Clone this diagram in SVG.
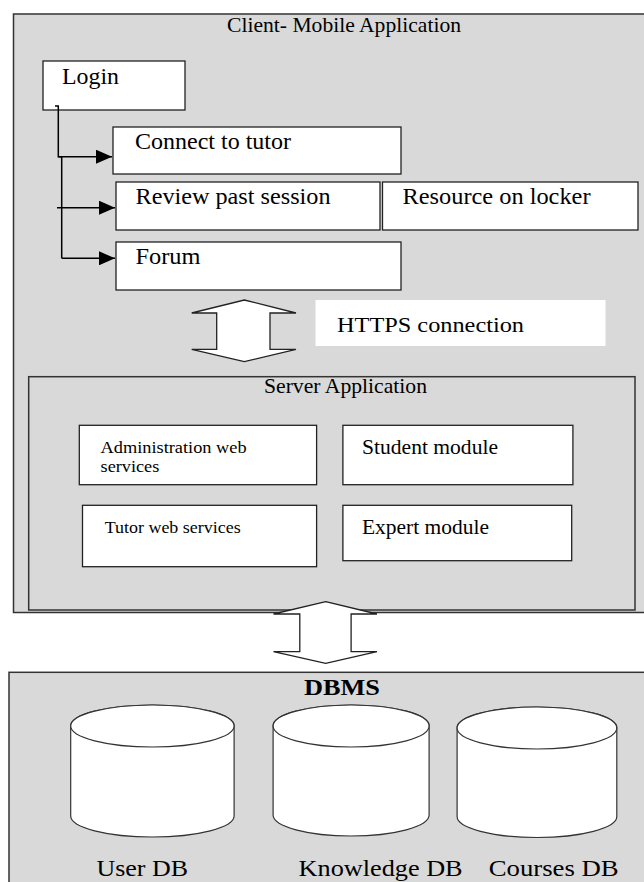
<svg xmlns="http://www.w3.org/2000/svg" width="644" height="882" viewBox="0 0 644 882">
<style>
.bg{fill:#ffffff}
.panel{fill:#d9d9d9;stroke:#333333;stroke-width:1.5}
.box{fill:#ffffff;stroke:#222222;stroke-width:1.3}
text{font-family:'Liberation Serif','Times New Roman',Times,serif;fill:#000000}
.big{font-size:24px}
.mid{font-size:21px}
.sm{font-size:17.5px}
.conn{fill:none;stroke:#000000;stroke-width:1.5}
.darrow{fill:#ffffff;stroke:#222222;stroke-width:1.3;stroke-linejoin:miter}
.cyl{fill:#ffffff;stroke:#333333;stroke-width:1.2}
</style>
<defs>
<marker id="ah" viewBox="0 0 16 14" refX="16" refY="7" markerWidth="16" markerHeight="14" markerUnits="userSpaceOnUse" orient="auto">
<path d="M0,0 L16,7 L0,14 Z" fill="#000000"/>
</marker>
</defs>
<rect class="bg" x="0" y="0" width="644" height="882"/>

<g id="client">
<rect class="panel" x="13.5" y="14" width="640" height="598.5"/>
<text class="mid" x="227" y="32" textLength="234" lengthAdjust="spacingAndGlyphs">Client- Mobile Application</text>
</g>

<g id="login">
<rect class="box" x="43" y="61" width="142" height="49"/>
<text class="big" x="62" y="84" textLength="57" lengthAdjust="spacingAndGlyphs">Login</text>
</g>
<g id="connect-tutor">
<rect class="box" x="113" y="127" width="288" height="47"/>
<text class="big" x="135" y="149" textLength="156" lengthAdjust="spacingAndGlyphs">Connect to tutor</text>
</g>
<g id="review-past">
<rect class="box" x="116" y="182" width="264" height="48"/>
<text class="big" x="135.5" y="204" textLength="195" lengthAdjust="spacingAndGlyphs">Review past session</text>
</g>
<g id="resource-locker">
<rect class="box" x="382.5" y="182" width="255.5" height="48"/>
<text class="big" x="402.5" y="204" textLength="188" lengthAdjust="spacingAndGlyphs">Resource on locker</text>
</g>
<g id="forum">
<rect class="box" x="116" y="242" width="285" height="48"/>
<text class="big" x="135.5" y="264" textLength="65" lengthAdjust="spacingAndGlyphs">Forum</text>
</g>

<g id="https-label">
<rect x="315.5" y="300" width="290" height="46" fill="#ffffff"/>
<text font-size="22" x="337" y="332" textLength="187" lengthAdjust="spacingAndGlyphs">HTTPS connection</text>
</g>

<g id="server">
<rect class="panel" x="28.7" y="376.7" width="606.3" height="233.3"/>
<text class="mid" x="264" y="393" textLength="163" lengthAdjust="spacingAndGlyphs">Server Application</text>
</g>
<g id="admin-ws">
<rect class="box" x="79.3" y="425.3" width="237.3" height="59.4"/>
<text class="sm" x="100.6" y="453" textLength="146" lengthAdjust="spacingAndGlyphs">Administration web</text>
<text class="sm" x="100.6" y="472" textLength="58.7" lengthAdjust="spacingAndGlyphs">services</text>
</g>
<g id="student-module">
<rect class="box" x="342.9" y="425.3" width="230" height="59.4"/>
<text class="mid" x="362" y="454" textLength="136" lengthAdjust="spacingAndGlyphs">Student module</text>
</g>
<g id="tutor-ws">
<rect class="box" x="82.5" y="505.3" width="234.1" height="61.4"/>
<text class="sm" x="104.7" y="533" textLength="136" lengthAdjust="spacingAndGlyphs">Tutor web services</text>
</g>
<g id="expert-module">
<rect class="box" x="342.9" y="505.3" width="228.8" height="55.4"/>
<text class="mid" x="362" y="534" textLength="127" lengthAdjust="spacingAndGlyphs">Expert module</text>
</g>

<g id="dbms">
<rect class="panel" x="9" y="672.3" width="640" height="230"/>
<text font-size="24" font-weight="bold" x="304" y="695" textLength="76" lengthAdjust="spacingAndGlyphs">DBMS</text>
</g>
<g id="user-db">
<path class="cyl" d="M70.7,726 V816 A81.7,21 0 0 0 234.1,816 V726 A81.7,21 0 0 0 70.7,726 Z"/>
<ellipse class="cyl" cx="152.4" cy="726" rx="81.7" ry="21"/>
<text class="big" x="96.5" y="876" textLength="91.5" lengthAdjust="spacingAndGlyphs">User DB</text>
</g>
<g id="knowledge-db">
<path class="cyl" d="M273.1,726 V815 A78,21 0 0 0 429.1,815 V726 A78,21 0 0 0 273.1,726 Z"/>
<ellipse class="cyl" cx="351.1" cy="726" rx="78" ry="21"/>
<text class="big" x="298.6" y="876" textLength="164" lengthAdjust="spacingAndGlyphs">Knowledge DB</text>
</g>
<g id="courses-db">
<path class="cyl" d="M457.1,728 V816.5 A79.85,21 0 0 0 616.8,816.5 V728 A79.85,21 0 0 0 457.1,728 Z"/>
<ellipse class="cyl" cx="536.95" cy="728" rx="79.85" ry="21"/>
<text class="big" x="488.7" y="876" textLength="130" lengthAdjust="spacingAndGlyphs">Courses DB</text>
</g>

<g id="connectors">
<path class="conn" d="M55,106 H58.3 V156.7 H61.7 V258.3"/>
<path class="conn" d="M58.3,156.7 H112" marker-end="url(#ah)"/>
<path class="conn" d="M57,207.7 H115" marker-end="url(#ah)"/>
<path class="conn" d="M61.7,258.3 H115" marker-end="url(#ah)"/>
<polygon class="darrow" points="244.3,300 296,313 270,313 270,349.3 296,349.3 244.3,361.7 191.7,349.3 216.7,349.3 216.7,313 191.7,313"/>
<polygon class="darrow" points="325.7,601.7 377,614 351.1,614 351.1,651.7 377,651.7 325.7,663.3 273.5,651.7 299.8,651.7 299.8,614 273.5,614"/>
</g>
</svg>
